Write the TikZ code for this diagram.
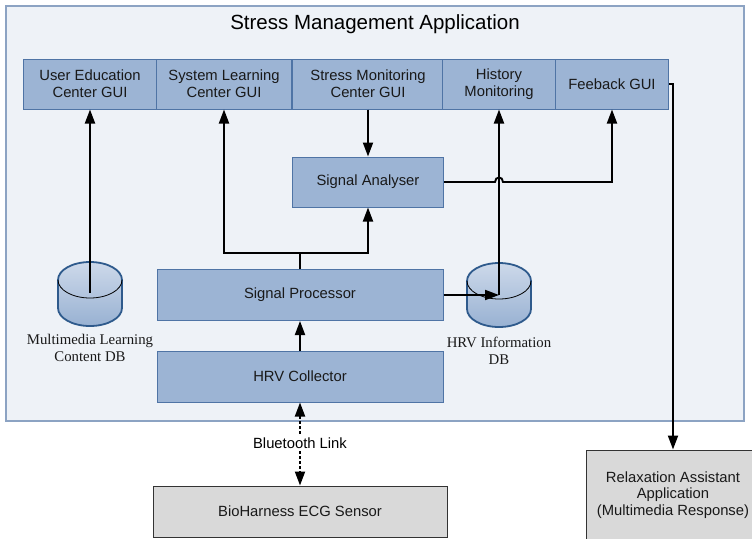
\documentclass[tikz,border=0pt]{standalone}
\usepackage{fontspec}
\setmainfont{Liberation Sans}
\newfontfamily\dbfont{Liberation Serif}
\usetikzlibrary{arrows.meta}

\definecolor{appfill}{HTML}{EEF2F7}
\definecolor{appline}{HTML}{8CA3C3}
\definecolor{boxfill}{HTML}{9CB4D4}
\definecolor{boxline}{HTML}{4F74A5}
\definecolor{dbline}{HTML}{2E5A8C}
\definecolor{dbtop}{HTML}{CDD9EA}
\definecolor{dbbot}{HTML}{98B1D2}
\definecolor{extfill}{HTML}{D9D9D9}
\definecolor{extline}{HTML}{333333}

\tikzset{
  % database cylinder, origin at the centre of the top ellipse
  dbcyl/.pic={
    \begin{scope}[yscale=-1]
      \path[draw=dbline, line width=1.8pt, top color=dbtop, bottom color=dbbot]
        (-32,0) -- (-32,-28)
        arc[start angle=180, end angle=360, x radius=32, y radius=18]
        -- (32,0)
        arc[start angle=0, end angle=180, x radius=32, y radius=18] -- cycle;
      \draw[line width=0.8pt, black]
        (-32,0) arc[start angle=180, end angle=360, x radius=32, y radius=18];
    \end{scope}
  }
}

\begin{document}
\begin{tikzpicture}[x=1pt, y=-1pt,
  font=\fontsize{14.8}{17}\selectfont,
  module/.style={draw=boxline, line width=1pt, fill=boxfill, minimum height=50pt,
                 inner sep=0pt, align=center, text=black!90},
  extbox/.style={draw=extline, line width=1pt, fill=extfill, inner sep=0pt,
                 align=center, text=black!90},
  dblabel/.style={font=\dbfont\fontsize{14.8}{17.5}\selectfont, align=center, text=black!90},
  flow/.style={line width=1.9pt, -{Triangle[length=14pt,width=10pt]}},
  wireless/.style={line width=1.9pt, dash pattern=on 2.5pt off 2.5pt,
                   {Triangle[length=14pt,width=10pt]}-{Triangle[length=14pt,width=10pt]}}
]
\useasboundingbox (0,0) rectangle (752,538);
\fill[white] (0,0) rectangle (752,538);

% application frame and title
\node[draw=appline, line width=1.5pt, fill=appfill, minimum width=738pt,
      minimum height=415pt, inner sep=0pt] (app) at (375,213.5) {};
\node[font=\fontsize{20.5}{24}\selectfont] (title) at (375,24) {Stress Management Application};

% GUI row
\node[module, minimum width=134pt] (edu)      at (90,84)  {User Education\\Center GUI};
\node[module, minimum width=135pt] (learn)    at (224,84) {System Learning\\Center GUI};
\node[module, minimum width=151pt] (monitor)  at (368,84) {Stress Monitoring\\Center GUI};
\node[module, minimum width=113pt] (history)  at (499,84) {History\\Monitoring};
\node[module, minimum width=113pt] (feedback) at (612,84) {Feeback GUI};

% processing chain
\node[module, minimum width=151pt] (analyser)  at (368,182) {Signal Analyser};
\node[module, minimum width=286pt, minimum height=51pt] (processor) at (300,295) {Signal Processor};
\node[module, minimum width=286pt, minimum height=51pt] (collector) at (300,376.5) {HRV Collector};

% databases
\pic at (90,280) {dbcyl};
\coordinate (mmdb) at (90,293);
\node[dblabel] (mmlabel) at (90,348) {Multimedia Learning\\Content DB};
\pic at (499,281) {dbcyl};
\coordinate (hrvdb) at (499,295);
\node[dblabel] (hrvlabel) at (499,351) {HRV Information\\DB};

% external parts
\node[extbox, minimum width=294pt, minimum height=51pt] (sensor) at (300,511.5) {BioHarness ECG Sensor};
\node[extbox, minimum width=174pt, minimum height=90pt,
      font=\fontsize{14.8}{16.5}\selectfont] (relax) at (673,495)
      {Relaxation Assistant\\Application\\(Multimedia Response)};

% connectors
\draw[flow] (mmdb) -- (edu.south);
\draw[flow] (processor.north) -- ++(0,-16) -| (learn.south);
\draw[flow] (processor.north) -- ++(0,-16) -| (analyser.south);
\draw[flow] (monitor.south) -- (analyser.north);
\draw[flow] (hrvdb) -- (history.south);
\draw[flow] (processor.east) -- (hrvdb);
\draw[flow] (analyser.east) -- (495,182)
  .. controls (495,176) and (503,176) .. (503,182) -| (feedback.south);
\draw[flow] (feedback.east) -| (relax.north);
\draw[flow] (collector.north) -- (processor.south);
\draw[wireless] (collector.south) -- (sensor.north);
\node[fill=white, inner sep=2pt] (btlink) at (300,443) {Bluetooth Link};
\end{tikzpicture}
\end{document}
